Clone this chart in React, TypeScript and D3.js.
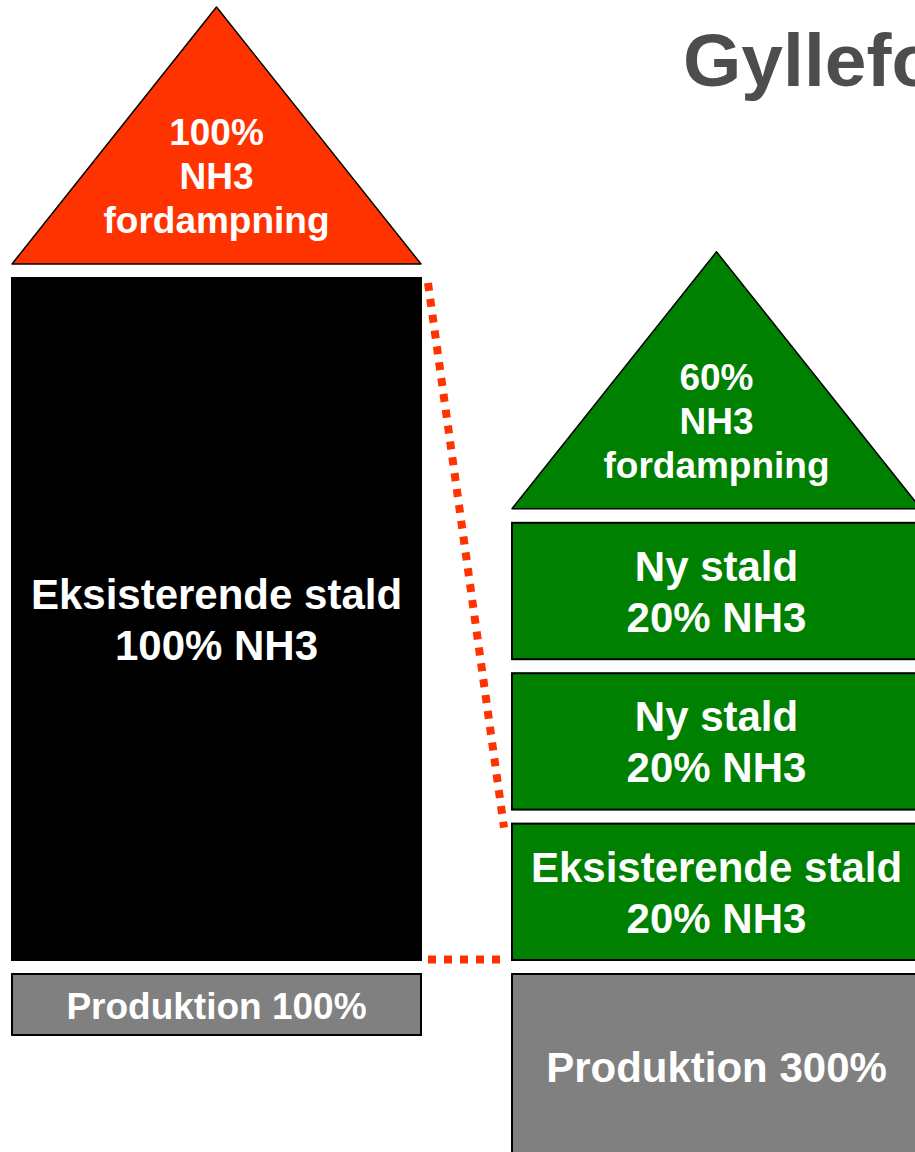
import React from "react";
import * as d3 from "d3";

// two scenarios: before / after expansion
const scenarios = ["før", "efter"];
const evaporationValues = [100, 60];
const evaporationLabels = [
  ["100%", "NH3", "fordampning"],
  ["60%", "NH3", "fordampning"],
];
// stable blocks, listed bottom-up
const stableValues = [[100], [20, 20, 20]];
const stableLabels = [
  [["Eksisterende stald", "100% NH3"]],
  [
    ["Eksisterende stald", "20% NH3"],
    ["Ny stald", "20% NH3"],
    ["Ny stald", "20% NH3"],
  ],
];
const productionValues = [100, 300];
const productionLabels = ["Produktion 100%", "Produktion 300%"];
const title = "Gylleforsuring";

const width = 915;
const height = 1152;
const font = "'Liberation Sans', Arial, sans-serif";
const red = "#FF3300";
const green = "#008000";
const grey = "#808080";

export default function App() {
  const x = d3.scaleBand().domain(scenarios).range([12, 921]).paddingInner(0.182);
  const bw = x.bandwidth();
  const stableH = d3.scaleLinear().domain([0, 100]).range([0, 682]);
  const prodH = d3.scaleLinear().domain([0, 100]).range([0, 61]);
  const baseY = 960; // bottom of stable stack
  const gap = 14;
  const triH = 257;

  const columns = scenarios.map((s, i) => {
    const x0 = x(s)!;
    let top = baseY;
    const blocks = stableValues[i].map((v, j) => {
      const h = stableH(v);
      const y = top - h;
      top = y - gap;
      return { y, h, label: stableLabels[i][j] };
    });
    const triBase = top;
    return { s, i, x0, blocks, triBase, fill: i === 0 ? "#000" : green, triFill: i === 0 ? red : green };
  });

  const left = columns[0];
  const right = columns[1];
  const rightBottom = right.blocks[0];
  const tri = d3.line();

  return (
    <div style={{ position: "absolute", left: 0, top: 0 }}>
      <svg width={width} height={height} style={{ display: "block", fontFamily: font }}>
        <rect width={width} height={height} fill="#fff" />
        <text x={683} y={86} fontSize={75} fontWeight="bold" fill="#4D4D4D">
          {title}
        </text>

        {columns.map((c) => (
          <g key={c.s}>
            {/* evaporation triangle */}
            <path
              d={tri([
                [c.x0, c.triBase],
                [c.x0 + bw / 2, c.triBase - triH],
                [c.x0 + bw, c.triBase],
              ])! + "Z"}
              fill={c.triFill}
              stroke="#000"
              strokeWidth={1.5}
              strokeLinejoin="round"
            />
            {evaporationLabels[c.i].map((t, k) => (
              <text
                key={k}
                x={c.x0 + bw / 2}
                y={c.triBase - 119 + k * 44}
                textAnchor="middle"
                fontSize={37}
                fontWeight="bold"
                fill="#fff"
              >
                {t}
              </text>
            ))}

            {/* stable blocks */}
            {c.blocks.map((b, j) => (
              <g key={j}>
                <rect x={c.x0} y={b.y} width={bw} height={b.h} fill={c.fill} stroke="#000" strokeWidth={2} />
                {b.label.map((t, k) => (
                  <text
                    key={k}
                    x={c.x0 + bw / 2}
                    y={b.y + b.h / 2 - 10 + k * 51}
                    textAnchor="middle"
                    fontSize={42}
                    fontWeight="bold"
                    fill="#fff"
                  >
                    {t}
                  </text>
                ))}
              </g>
            ))}

            {/* production */}
            <rect
              x={c.x0}
              y={baseY + gap}
              width={bw}
              height={prodH(productionValues[c.i])}
              fill={grey}
              stroke="#000"
              strokeWidth={2}
            />
            <text
              x={c.x0 + bw / 2}
              y={baseY + gap + prodH(productionValues[c.i]) / 2 + (c.i === 0 ? 14 : 16)}
              textAnchor="middle"
              fontSize={c.i === 0 ? 37 : 42}
              fontWeight="bold"
              fill="#fff"
            >
              {productionLabels[c.i]}
            </text>
          </g>
        ))}

        {/* dotted connectors */}
        <line
          x1={left.x0 + bw + 7}
          y1={left.blocks[0].y + 5}
          x2={right.x0 - 8}
          y2={rightBottom.y + 4}
          stroke={red}
          strokeWidth={8}
          strokeDasharray="8 8"
        />
        <line
          x1={left.x0 + bw + 7}
          y1={baseY - 0.5}
          x2={right.x0 - 8}
          y2={baseY - 0.5}
          stroke={red}
          strokeWidth={8}
          strokeDasharray="8 8"
        />
      </svg>
    </div>
  );
}
